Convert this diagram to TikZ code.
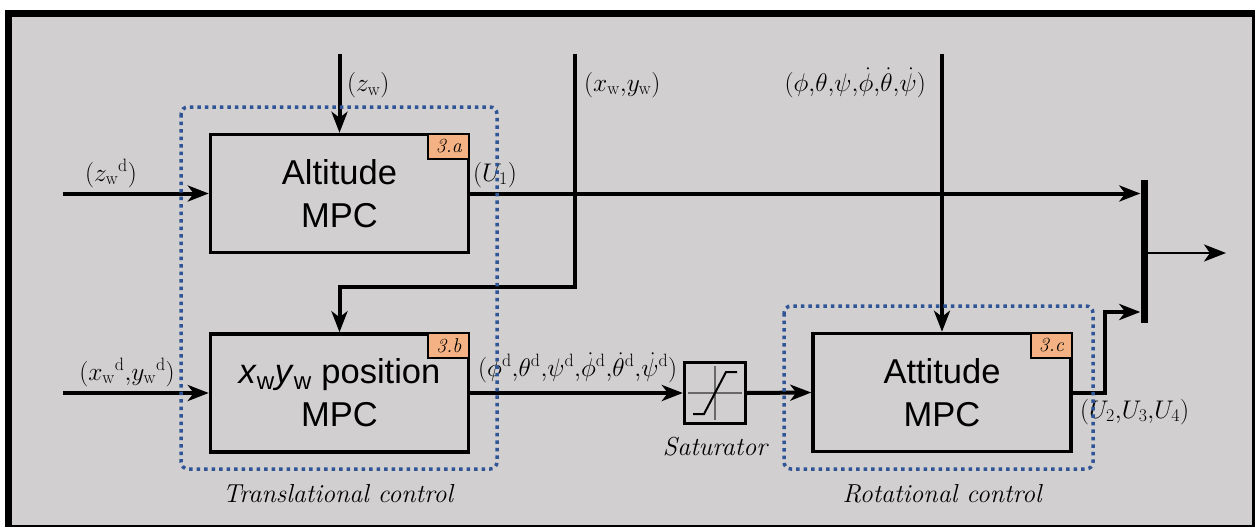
\documentclass[tikz,border=0pt]{standalone}
\usepackage{fix-cm}
\usepackage{fontspec}
\newfontfamily\blockfont{Liberation Sans}
\usetikzlibrary{arrows.meta,calc}
\definecolor{bg}{RGB}{209,207,208}
\definecolor{dotblue}{RGB}{47,85,151}
\definecolor{tagor}{RGB}{244,177,131}
\definecolor{satgray}{RGB}{105,105,105}
\newcommand{\wsub}{_{\mathrm{w}}}
\newcommand{\dsup}{^{\mathrm{d}}}
\begin{document}
\begin{tikzpicture}[x=1pt,y=-1pt,
  blockbox/.style={draw, line width=3.5pt, minimum width=258pt, minimum height=118pt, inner sep=0pt, align=center, font=\blockfont\fontsize{34.5}{43}\selectfont},
  tagbox/.style={draw, fill=tagor, line width=2pt, minimum width=41pt, minimum height=25pt, inner sep=0pt, anchor=north east, font=\fontsize{20}{22}\selectfont\itshape},
  sig/.style={line width=4pt, -{Stealth[length=21pt,width=16pt,inset=6pt]}},
  sigthin/.style={line width=2.8pt, -{Stealth[length=22pt,width=17pt,inset=6pt]}},
  lbl/.style={inner sep=0pt, font=\fontsize{25.5}{29}\selectfont},
  captext/.style={inner sep=0pt, anchor=base, font=\fontsize{26}{30}\selectfont\itshape},
  groupframe/.style={draw=dotblue, line width=3.5pt, dash pattern=on 3.5pt off 4pt, rounded corners=7pt},
]
\useasboundingbox (0,0) rectangle (1255,527);
\begin{scope}
  \clip (0,0) rectangle (1255,527);
  \draw[line width=7pt, fill=bg] (8.5,13.5) rectangle (1255.5,528.5);
\end{scope}

% blocks
\node[blockbox] (alt) at (339.5,193.5) {Altitude\\MPC};
\node[tagbox] (taga) at (alt.north east) {3.a};
\node[blockbox] (xy) at (339.5,393) {\textit{x}\textsubscript{w}\textit{y}\textsubscript{w} position\\MPC};
\node[tagbox] (tagb) at (xy.north east) {3.b};
\node[blockbox] (att) at (942,392.5) {Attitude\\MPC};
\node[tagbox] (tagc) at (att.north east) {3.c};

% saturator
\node[draw, line width=3.3pt, minimum size=61pt, inner sep=0pt] (sat) at (715,393) {};
\draw[satgray, line width=2pt] ($(sat.center)+(-27,0)$) -- ($(sat.center)+(27,0)$);
\draw[satgray, line width=2pt] ($(sat.center)+(0,-27)$) -- ($(sat.center)+(0,27)$);
\draw[line width=2pt] ($(sat.center)+(-22,21)$) -- ($(sat.center)+(-11,21)$) -- ($(sat.center)+(11,-21)$) -- ($(sat.center)+(22,-21)$);
\node[captext] (satlbl) at (715,455) {Saturator};

% bus bar
\node[fill=black, minimum width=7pt, minimum height=143pt, inner sep=0pt] (bus) at (1144,251.5) {};

% free ends
\coordinate (zwin) at (339.5,54);
\coordinate (zwdin) at (63,193.5);
\coordinate (xyin) at (575,54);
\coordinate (xyturn) at (575,287);
\coordinate (xydin) at (63,393);
\coordinate (phin) at (942,54);
\coordinate (uturn) at (1105,312);
\coordinate (out) at (1226,253);

% connectors
\draw[sig] (zwin) -- (alt.north);
\draw[sig] (zwdin) -- (alt.west);
\draw[sig] (alt.east) -- (alt.east -| bus.west);
\draw[sig] (xyin) -- (xyturn) -| (xy.north);
\draw[sig] (xydin) -- (xy.west);
\draw[sig] (xy.east) -- (sat.west);
\draw[sig] (sat.east) -- (att.west);
\draw[sig] (phin) -- (att.north);
\draw[sig] (att.east) -| (uturn) -- (uturn -| bus.west);
\draw[sigthin] (bus.east |- out) -- (out);

% labels
\node[lbl, anchor=base west] (lzw) at (347,92) {$(z\wsub)$};
\node[lbl, anchor=base] (lzwd) at (111,181) {$({z\wsub}\dsup)$};
\node[lbl, anchor=base west] (lu1) at (473,181) {$(U_1)$};
\node[lbl, anchor=base west] (lxy) at (584,91) {$(x\wsub{,}y\wsub)$};
\node[lbl, anchor=base east] (lphi) at (926,91) {$(\phi{,}\theta{,}\psi{,}\dot{\phi}{,}\dot{\theta}{,}\dot{\psi})$};
\node[lbl, anchor=base] (lxyd) at (127,380) {$({x\wsub}\dsup{,}{y\wsub}\dsup)$};
\node[lbl, anchor=base west] (lphid) at (478,376) {$(\phi\dsup{,}\theta\dsup{,}\psi\dsup{,}\dot{\phi}\dsup{,}\dot{\theta}\dsup{,}\dot{\psi}\dsup)$};
\node[lbl, anchor=base west] (lu234) at (1080,418) {$(U_2{,}U_3{,}U_4)$};

% group frames
\draw[groupframe] (181,107) rectangle (497,469);
\draw[groupframe] (784,306) rectangle (1093,469);
\node[captext] (trans) at (338,502) {Translational control};
\node[captext] (rot) at (942,502) {Rotational control};
\end{tikzpicture}
\end{document}
